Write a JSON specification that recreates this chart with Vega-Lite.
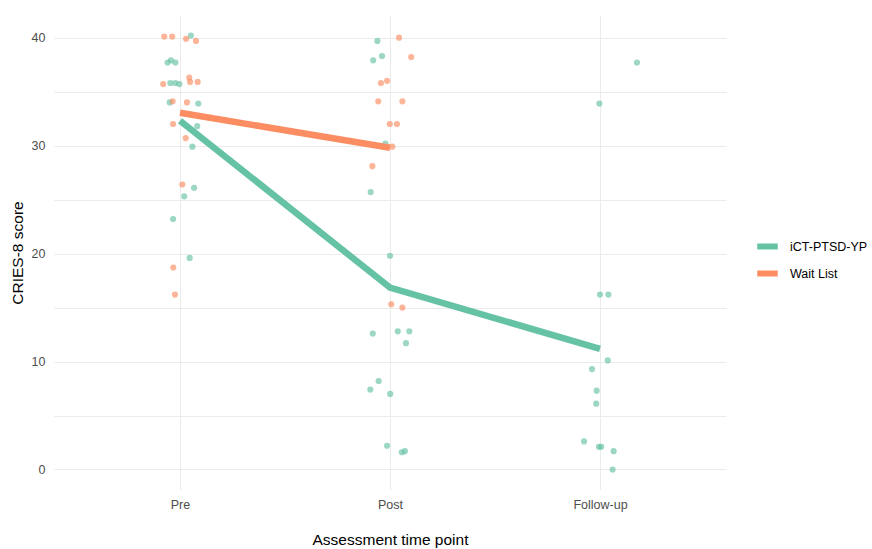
{
  "$schema": "https://vega.github.io/schema/vega-lite/v6.json",
  "autosize": "none",
  "padding": {"left": 54, "top": 15, "right": 146, "bottom": 59},
  "width": 672,
  "height": 475,
  "background": "white",
  "config": {
    "font": "Liberation Sans",
    "view": {"stroke": null},
    "axis": {"domain": false, "ticks": false, "gridColor": "#EBEBEB", "gridWidth": 1, "labelColor": "#4D4D4D", "labelFontSize": 12.5, "titleColor": "#000000", "titleFontSize": 15.5, "titleFontWeight": "normal"}
  },
  "data": {"values": [
    {"group": "iCT-PTSD-YP", "t": 1, "x": 1.052, "score": 40.2},
    {"group": "iCT-PTSD-YP", "t": 1, "x": 0.941, "score": 37.7},
    {"group": "iCT-PTSD-YP", "t": 1, "x": 0.957, "score": 37.9},
    {"group": "iCT-PTSD-YP", "t": 1, "x": 0.978, "score": 37.7},
    {"group": "iCT-PTSD-YP", "t": 1, "x": 0.954, "score": 35.8},
    {"group": "iCT-PTSD-YP", "t": 1, "x": 0.978, "score": 35.8},
    {"group": "iCT-PTSD-YP", "t": 1, "x": 0.997, "score": 35.7},
    {"group": "iCT-PTSD-YP", "t": 1, "x": 0.951, "score": 34.0},
    {"group": "iCT-PTSD-YP", "t": 1, "x": 1.087, "score": 33.9},
    {"group": "iCT-PTSD-YP", "t": 1, "x": 1.082, "score": 31.8},
    {"group": "iCT-PTSD-YP", "t": 1, "x": 1.059, "score": 29.9},
    {"group": "iCT-PTSD-YP", "t": 1, "x": 1.067, "score": 26.1},
    {"group": "iCT-PTSD-YP", "t": 1, "x": 1.020, "score": 25.3},
    {"group": "iCT-PTSD-YP", "t": 1, "x": 0.967, "score": 23.2},
    {"group": "iCT-PTSD-YP", "t": 1, "x": 1.046, "score": 19.6},
    {"group": "Wait List", "t": 1, "x": 0.925, "score": 40.1},
    {"group": "Wait List", "t": 1, "x": 0.963, "score": 40.1},
    {"group": "Wait List", "t": 1, "x": 1.029, "score": 39.9},
    {"group": "Wait List", "t": 1, "x": 1.076, "score": 39.7},
    {"group": "Wait List", "t": 1, "x": 0.920, "score": 35.7},
    {"group": "Wait List", "t": 1, "x": 1.044, "score": 36.3},
    {"group": "Wait List", "t": 1, "x": 1.048, "score": 35.9},
    {"group": "Wait List", "t": 1, "x": 1.084, "score": 35.9},
    {"group": "Wait List", "t": 1, "x": 0.965, "score": 34.1},
    {"group": "Wait List", "t": 1, "x": 1.033, "score": 34.0},
    {"group": "Wait List", "t": 1, "x": 0.967, "score": 32.0},
    {"group": "Wait List", "t": 1, "x": 1.027, "score": 30.7},
    {"group": "Wait List", "t": 1, "x": 1.011, "score": 26.4},
    {"group": "Wait List", "t": 1, "x": 0.968, "score": 18.7},
    {"group": "Wait List", "t": 1, "x": 0.976, "score": 16.2},
    {"group": "iCT-PTSD-YP", "t": 2, "x": 1.940, "score": 39.7},
    {"group": "iCT-PTSD-YP", "t": 2, "x": 1.962, "score": 38.3},
    {"group": "iCT-PTSD-YP", "t": 2, "x": 1.920, "score": 37.9},
    {"group": "iCT-PTSD-YP", "t": 2, "x": 1.978, "score": 30.2},
    {"group": "iCT-PTSD-YP", "t": 2, "x": 1.908, "score": 25.7},
    {"group": "iCT-PTSD-YP", "t": 2, "x": 2.000, "score": 19.8},
    {"group": "iCT-PTSD-YP", "t": 2, "x": 1.918, "score": 12.6},
    {"group": "iCT-PTSD-YP", "t": 2, "x": 2.037, "score": 12.8},
    {"group": "iCT-PTSD-YP", "t": 2, "x": 2.092, "score": 12.8},
    {"group": "iCT-PTSD-YP", "t": 2, "x": 2.076, "score": 11.7},
    {"group": "iCT-PTSD-YP", "t": 2, "x": 1.946, "score": 8.2},
    {"group": "iCT-PTSD-YP", "t": 2, "x": 1.906, "score": 7.4},
    {"group": "iCT-PTSD-YP", "t": 2, "x": 2.001, "score": 7.0},
    {"group": "iCT-PTSD-YP", "t": 2, "x": 1.986, "score": 2.2},
    {"group": "iCT-PTSD-YP", "t": 2, "x": 2.056, "score": 1.6},
    {"group": "iCT-PTSD-YP", "t": 2, "x": 2.071, "score": 1.7},
    {"group": "Wait List", "t": 2, "x": 2.043, "score": 40.0},
    {"group": "Wait List", "t": 2, "x": 2.101, "score": 38.2},
    {"group": "Wait List", "t": 2, "x": 1.957, "score": 35.8},
    {"group": "Wait List", "t": 2, "x": 1.986, "score": 36.0},
    {"group": "Wait List", "t": 2, "x": 1.944, "score": 34.1},
    {"group": "Wait List", "t": 2, "x": 2.059, "score": 34.1},
    {"group": "Wait List", "t": 2, "x": 1.999, "score": 32.0},
    {"group": "Wait List", "t": 2, "x": 2.033, "score": 32.0},
    {"group": "Wait List", "t": 2, "x": 2.011, "score": 29.9},
    {"group": "Wait List", "t": 2, "x": 1.916, "score": 28.1},
    {"group": "Wait List", "t": 2, "x": 2.006, "score": 15.3},
    {"group": "Wait List", "t": 2, "x": 2.059, "score": 15.0},
    {"group": "Wait List", "t": 2, "x": 2.0, "score": 16.85},
    {"group": "iCT-PTSD-YP", "t": 3, "x": 3.176, "score": 37.7},
    {"group": "iCT-PTSD-YP", "t": 3, "x": 2.997, "score": 33.9},
    {"group": "iCT-PTSD-YP", "t": 3, "x": 3.000, "score": 16.2},
    {"group": "iCT-PTSD-YP", "t": 3, "x": 3.040, "score": 16.2},
    {"group": "iCT-PTSD-YP", "t": 3, "x": 3.037, "score": 10.1},
    {"group": "iCT-PTSD-YP", "t": 3, "x": 2.962, "score": 9.3},
    {"group": "iCT-PTSD-YP", "t": 3, "x": 2.984, "score": 7.3},
    {"group": "iCT-PTSD-YP", "t": 3, "x": 2.982, "score": 6.1},
    {"group": "iCT-PTSD-YP", "t": 3, "x": 2.924, "score": 2.6},
    {"group": "iCT-PTSD-YP", "t": 3, "x": 2.995, "score": 2.1},
    {"group": "iCT-PTSD-YP", "t": 3, "x": 3.006, "score": 2.1},
    {"group": "iCT-PTSD-YP", "t": 3, "x": 3.065, "score": 1.7},
    {"group": "iCT-PTSD-YP", "t": 3, "x": 3.060, "score": 0.0}
  ]},
  "layer": [
    {
      "mark": {"type": "circle", "size": 38, "opacity": 0.65},
      "encoding": {
        "x": {"field": "x", "type": "quantitative", "scale": {"domain": [0.4, 3.6], "nice": false, "zero": false},
              "axis": {"values": [1, 2, 3], "title": "Assessment time point", "labelPadding": 8, "titlePadding": 22,
                       "labelExpr": "datum.value == 1 ? 'Pre' : datum.value == 2 ? 'Post' : 'Follow-up'"}},
        "y": {"field": "score", "type": "quantitative", "scale": {"domain": [-1.9, 42.1], "nice": false, "zero": false},
              "axis": {"values": [0, 5, 10, 15, 20, 25, 30, 35, 40], "title": "CRIES-8 score", "labelPadding": 9, "titlePadding": 6,
                       "labelExpr": "datum.value % 10 == 0 ? datum.label : ''"}},
        "color": {"field": "group", "type": "nominal",
                  "scale": {"domain": ["iCT-PTSD-YP", "Wait List"], "range": ["#66C2A5", "#FC8D62"]},
                  "legend": {"title": null, "orient": "none", "legendX": 700, "legendY": 218, "symbolType": "stroke",
                             "symbolSize": 420, "symbolStrokeWidth": 6, "symbolOpacity": 1, "labelFontSize": 12.5,
                             "labelColor": "#000000", "rowPadding": 1, "labelOffset": 9}}
      }
    },
    {
      "mark": {"type": "line", "strokeWidth": 6.5},
      "encoding": {
        "x": {"field": "t", "type": "quantitative"},
        "y": {"aggregate": "mean", "field": "score", "type": "quantitative"},
        "color": {"field": "group", "type": "nominal"}
      }
    }
  ]
}
